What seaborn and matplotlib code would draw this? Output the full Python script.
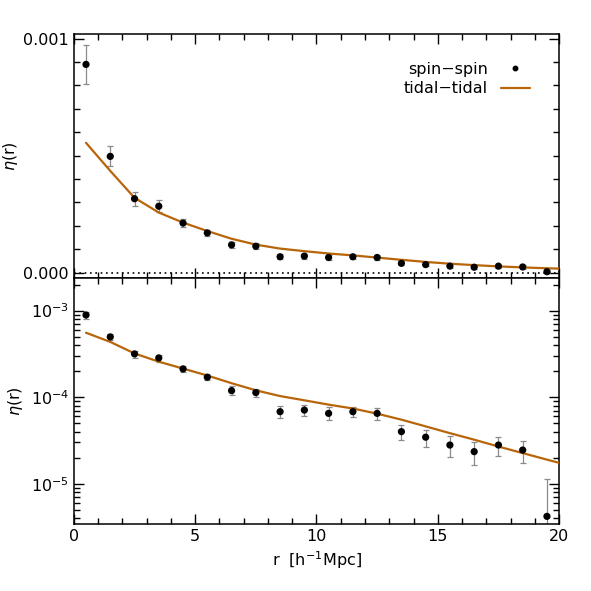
import matplotlib
matplotlib.use('Agg')
import matplotlib.pyplot as plt
import matplotlib.ticker as mticker
import seaborn as sns
import numpy as np
import pandas as pd

# spin-spin correlation measured in bins of r [h^-1 Mpc]
r_bins = [0.5, 1.5, 2.5, 3.5, 4.5, 5.5, 6.5, 7.5, 8.5, 9.5,
          10.5, 11.5, 12.5, 13.5, 14.5, 15.5, 16.5, 17.5, 18.5, 19.5]
eta_spin = [8.9e-4, 4.97e-4, 3.16e-4, 2.84e-4, 2.12e-4, 1.70e-4, 1.19e-4, 1.13e-4, 6.8e-5, 7.1e-5,
            6.5e-5, 6.8e-5, 6.5e-5, 4.0e-5, 3.45e-5, 2.8e-5, 2.35e-5, 2.8e-5, 2.45e-5, 4.2e-6]
eta_err = [8.3e-5, 4.3e-5, 3.0e-5, 2.6e-5, 1.7e-5, 1.4e-5, 1.4e-5, 1.2e-5, 1.1e-5, 1.1e-5,
           1.1e-5, 0.9e-5, 1.0e-5, 8.0e-6, 7.7e-6, 7.5e-6, 7.0e-6, 7.0e-6, 7.0e-6, 7.0e-6]

# tidal-tidal prediction
r_model = [0.5, 1.5, 2.5, 3.5, 4.5, 5.5, 6.5, 7.5, 8.5, 9.5,
           10.5, 11.5, 12.5, 13.5, 14.5, 15.5, 16.5, 17.5, 18.5, 19.5, 20.5]
eta_tidal = [5.55e-4, 4.35e-4, 3.2e-4, 2.57e-4, 2.14e-4, 1.78e-4, 1.45e-4, 1.2e-4, 1.03e-4, 9.2e-5,
             8.2e-5, 7.4e-5, 6.45e-5, 5.5e-5, 4.6e-5, 3.84e-5, 3.23e-5, 2.69e-5, 2.26e-5, 1.9e-5, 1.6e-5]

spin = pd.DataFrame({"r": r_bins, "eta": eta_spin, "err": eta_err})
tidal = pd.DataFrame({"r": r_model, "eta": eta_tidal})

sns.set_style("ticks")
plt.rcParams['font.family'] = ['DejaVu Sans']
plt.rcParams['font.size'] = 11.5
plt.rcParams['axes.linewidth'] = 1.1
plt.rcParams['mathtext.default'] = 'regular'
plt.rcParams['text.color'] = 'black'
plt.rcParams['axes.labelcolor'] = 'black'
plt.rcParams['xtick.color'] = 'black'
plt.rcParams['ytick.color'] = 'black'
plt.rcParams['axes.edgecolor'] = 'black'

line_color = '#b8650a'

fig = plt.figure(figsize=(5.91, 5.91), dpi=100)
ax_top = fig.add_axes([0.125, 0.5296, 0.821, 0.4129])
ax_bot = fig.add_axes([0.125, 0.1134, 0.821, 0.4162])

for ax in (ax_top, ax_bot):
    ax.errorbar(spin["r"], spin["eta"], yerr=spin["err"], fmt='none',
                ecolor='#8a8a8a', elinewidth=0.9, capsize=2.2, capthick=0.9, zorder=2)
    sns.lineplot(data=tidal, x="r", y="eta", ax=ax, color=line_color, lw=1.6,
                 legend=False, zorder=3)
    sns.scatterplot(data=spin, x="r", y="eta", ax=ax, color='black', s=27,
                    edgecolor='none', legend=False, zorder=4)
    ax.set_xlim(0, 20)
    ax.xaxis.set_major_locator(mticker.MultipleLocator(5))
    ax.xaxis.set_minor_locator(mticker.MultipleLocator(1))
    ax.tick_params(which='both', direction='in', top=True, right=True, width=1.0)
    ax.tick_params(which='major', length=7)
    ax.tick_params(which='minor', length=4)

# top panel: linear scale
ax_top.axhline(0, color='black', ls=(0, (1, 2.2)), lw=1.2, zorder=1)
ax_top.set_ylim(-0.0000227, 0.00102)
ax_top.yaxis.set_major_locator(mticker.FixedLocator([0.0, 0.001]))
ax_top.yaxis.set_minor_locator(mticker.MultipleLocator(0.0001))
ax_top.yaxis.set_major_formatter(mticker.FormatStrFormatter('%.3f'))
ax_top.tick_params(labelbottom=False)
ax_top.set_xlabel("")
ax_top.set_ylabel(r"$\mathit{\eta}$(r)", labelpad=2.5)

# legend: marker proxy for spin-spin, line for tidal-tidal, handles on the right
dot = plt.Line2D([], [], ls='none', marker='o', color='black', markersize=3.2)
tid = plt.Line2D([], [], color=line_color, lw=1.6)
ax_top.legend([dot, tid], ["spin\u2212spin", "tidal\u2212tidal"], loc='upper right',
              bbox_to_anchor=(1.0, 1.008), frameon=False, markerfirst=False,
              handlelength=1.8, borderaxespad=1.45, labelspacing=0.3, fontsize=11.5)

# bottom panel: log scale
ax_bot.set_yscale('log')
ax_bot.set_ylim(3.43e-6, 2.38e-3)
ax_bot.yaxis.set_minor_locator(mticker.LogLocator(base=10, subs=np.arange(2, 10)))
ax_bot.yaxis.set_minor_formatter(mticker.NullFormatter())
ax_bot.set_xlabel(r"r  [h$^{-1}$Mpc]")
ax_bot.set_ylabel(r"$\mathit{\eta}$(r)")

fig.savefig("out.png", dpi=100)
plt.close(fig)
